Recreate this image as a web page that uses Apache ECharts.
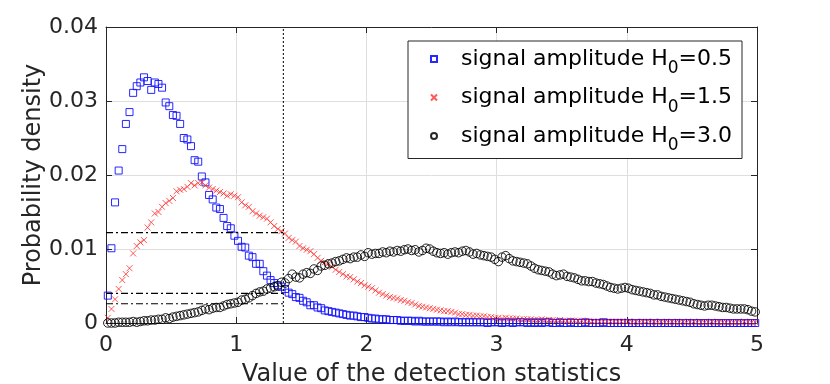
<!DOCTYPE html>
<html>
<head>
<meta charset="utf-8">
<script src="https://cdn.jsdelivr.net/npm/echarts@6/dist/echarts.min.js"></script>
<style>
  html, body { margin: 0; padding: 0; background: #fff; }
  #chart { width: 830px; height: 384px; }
</style>
</head>
<body>
<div id="chart"></div>
<script>
// histogram bin width, points sit at bin centres
const binWidth = 1 / 36

const amplitudes = ['0.5', '1.5', '3.0']

// signal amplitude H0=0.5
const amp05 = [
  0.0037, 0.0101, 0.0163, 0.0206, 0.0235, 0.0269, 0.0285, 0.0311, 0.0320, 0.0325,
  0.0332, 0.0327, 0.0315, 0.0325, 0.0323, 0.0318, 0.0298, 0.0293, 0.0281, 0.0280,
  0.0269, 0.0250, 0.0248, 0.0239, 0.0220, 0.0218, 0.0198, 0.0190, 0.0173, 0.0167,
  0.0156, 0.0154, 0.0142, 0.0131, 0.0128, 0.0118, 0.0111, 0.0103, 0.0102, 0.0091,
  0.0089, 0.0080, 0.0080, 0.0070, 0.0064, 0.0058, 0.0054, 0.0051, 0.0049, 0.0046,
  0.0041, 0.0039, 0.0035, 0.0034, 0.0030, 0.0028, 0.0024, 0.0024, 0.0021, 0.0020,
  0.0017, 0.0016, 0.0015, 0.0014, 0.0013, 0.0012, 0.0011, 0.0010, 0.0010, 0.0009,
  0.0008, 0.0008, 0.0007, 0.0006, 0.0006, 0.0005, 0.0005, 0.0005, 0.0004, 0.0004,
  0.0004, 0.0003, 0.0003, 0.0003, 0.0003, 0.0002, 0.0003, 0.0002, 0.0002, 0.0002,
  0.0002, 0.0002, 0.0002, 0.0001, 0.0002, 0.0001, 0.0002, 0.0001, 0.0001, 0.0001,
  0.0001, 0.0001, 0.0001, 0.0001, 0.0001, 0.0000, 0.0001, 0.0001, 0.0001, 0.0000,
  0.0001, 0.0001, 0.0000, 0.0001, 0.0001, 0.0001, 0.0000, 0.0001, 0.0000, 0.0001,
  0.0000, 0.0001, 0.0001, 0.0000, 0.0000, 0.0001, 0.0000, 0.0000, 0.0001, 0.0000,
  0.0000, 0.0000, 0.0001, 0.0000, 0.0000, 0.0000, 0.0000, 0.0001, 0.0000, 0.0000,
  0.0000, 0.0000, 0.0000, 0.0000, 0.0000, 0.0000, 0.0000, 0.0000, 0.0000, 0.0000,
  0.0000, 0.0000, 0.0000, 0.0000, 0.0000, 0.0000, 0.0000, 0.0000, 0.0000, 0.0000,
  0.0000, 0.0000, 0.0000, 0.0000, 0.0000, 0.0000, 0.0000, 0.0000, 0.0000, 0.0000,
  0.0000, 0.0000, 0.0000, 0.0000, 0.0000, 0.0000, 0.0000, 0.0000, 0.0000, 0.0000
]

// signal amplitude H0=1.5
const amp15 = [
  0.0007, 0.0019, 0.0032, 0.0046, 0.0058, 0.0066, 0.0074, 0.0094, 0.0104, 0.0109,
  0.0112, 0.0129, 0.0136, 0.0148, 0.0150, 0.0157, 0.0162, 0.0165, 0.0169, 0.0178,
  0.0180, 0.0181, 0.0184, 0.0189, 0.0186, 0.0189, 0.0190, 0.0186, 0.0183, 0.0181,
  0.0179, 0.0177, 0.0175, 0.0172, 0.0174, 0.0172, 0.0170, 0.0163, 0.0159, 0.0157,
  0.0151, 0.0148, 0.0145, 0.0143, 0.0141, 0.0136, 0.0131, 0.0127, 0.0124, 0.0121,
  0.0115, 0.0112, 0.0110, 0.0104, 0.0101, 0.0099, 0.0097, 0.0093, 0.0088, 0.0084,
  0.0082, 0.0080, 0.0076, 0.0072, 0.0069, 0.0066, 0.0063, 0.0062, 0.0059, 0.0056,
  0.0054, 0.0051, 0.0049, 0.0047, 0.0044, 0.0041, 0.0039, 0.0037, 0.0035, 0.0034,
  0.0033, 0.0031, 0.0030, 0.0028, 0.0027, 0.0025, 0.0023, 0.0022, 0.0021, 0.0020,
  0.0019, 0.0018, 0.0017, 0.0016, 0.0016, 0.0015, 0.0014, 0.0012, 0.0012, 0.0011,
  0.0011, 0.0010, 0.0010, 0.0009, 0.0009, 0.0008, 0.0008, 0.0007, 0.0007, 0.0006,
  0.0007, 0.0006, 0.0006, 0.0006, 0.0005, 0.0005, 0.0005, 0.0005, 0.0004, 0.0004,
  0.0005, 0.0004, 0.0004, 0.0004, 0.0003, 0.0004, 0.0003, 0.0003, 0.0003, 0.0003,
  0.0003, 0.0003, 0.0002, 0.0003, 0.0002, 0.0002, 0.0002, 0.0002, 0.0002, 0.0002,
  0.0002, 0.0002, 0.0002, 0.0002, 0.0002, 0.0001, 0.0002, 0.0001, 0.0002, 0.0002,
  0.0001, 0.0002, 0.0001, 0.0002, 0.0001, 0.0001, 0.0002, 0.0001, 0.0001, 0.0002,
  0.0001, 0.0001, 0.0002, 0.0001, 0.0001, 0.0001, 0.0001, 0.0002, 0.0001, 0.0001,
  0.0001, 0.0001, 0.0001, 0.0001, 0.0001, 0.0001, 0.0002, 0.0001, 0.0001, 0.0001
]

// signal amplitude H0=3.0
const amp30 = [
  0.0000, 0.0000, 0.0000, 0.0001, 0.0001, 0.0001, 0.0001, 0.0002, 0.0001, 0.0002,
  0.0003, 0.0003, 0.0004, 0.0004, 0.0005, 0.0005, 0.0007, 0.0006, 0.0008, 0.0009,
  0.0010, 0.0011, 0.0012, 0.0013, 0.0014, 0.0015, 0.0017, 0.0019, 0.0018, 0.0020,
  0.0021, 0.0021, 0.0023, 0.0025, 0.0026, 0.0027, 0.0028, 0.0031, 0.0032, 0.0034,
  0.0037, 0.0040, 0.0042, 0.0043, 0.0046, 0.0047, 0.0049, 0.0050, 0.0055, 0.0054,
  0.0060, 0.0066, 0.0062, 0.0061, 0.0066, 0.0068, 0.0067, 0.0073, 0.0071, 0.0077,
  0.0078, 0.0080, 0.0081, 0.0083, 0.0084, 0.0086, 0.0088, 0.0087, 0.0089, 0.0089,
  0.0092, 0.0090, 0.0095, 0.0093, 0.0094, 0.0094, 0.0096, 0.0095, 0.0097, 0.0096,
  0.0098, 0.0097, 0.0099, 0.0100, 0.0098, 0.0099, 0.0096, 0.0098, 0.0101, 0.0100,
  0.0097, 0.0095, 0.0094, 0.0095, 0.0093, 0.0095, 0.0096, 0.0095, 0.0097, 0.0098,
  0.0096, 0.0093, 0.0094, 0.0092, 0.0091, 0.0090, 0.0089, 0.0086, 0.0083, 0.0089,
  0.0091, 0.0087, 0.0084, 0.0083, 0.0082, 0.0081, 0.0080, 0.0077, 0.0074, 0.0072,
  0.0071, 0.0070, 0.0069, 0.0066, 0.0064, 0.0065, 0.0066, 0.0063, 0.0062, 0.0061,
  0.0059, 0.0057, 0.0057, 0.0056, 0.0056, 0.0054, 0.0053, 0.0052, 0.0050, 0.0048,
  0.0047, 0.0046, 0.0047, 0.0048, 0.0047, 0.0045, 0.0044, 0.0043, 0.0042, 0.0041,
  0.0040, 0.0038, 0.0038, 0.0036, 0.0035, 0.0034, 0.0033, 0.0032, 0.0031, 0.0030,
  0.0029, 0.0028, 0.0026, 0.0025, 0.0024, 0.0023, 0.0024, 0.0024, 0.0023, 0.0022,
  0.0021, 0.0021, 0.0020, 0.0019, 0.0019, 0.0019, 0.0019, 0.0018, 0.0016, 0.0015
]

const thresholdX = 1.362
const thresholdLevels = [0.0122, 0.0040, 0.0026]

const xTicks = [0, 1, 2, 3, 4, 5]
const yTicks = ['0', '0.01', '0.02', '0.03', '0.04']

const FONT = 'DejaVu Sans'
const AXIS_COLOR = '#262626'

const toPoints = (arr) => arr.map((v, i) => [(i + 0.5) * binWidth, v])
const nameOf = (amp) => 'signal amplitude H0=' + amp

const chart = echarts.init(document.getElementById('chart'), null, { renderer: 'canvas' })

const baseX = {
  type: 'value',
  min: xTicks[0],
  max: xTicks[xTicks.length - 1],
  interval: 1,
  axisLine: { show: true, onZero: false, lineStyle: { color: AXIS_COLOR, width: 1 } },
  axisTick: { show: true, inside: true, length: 6, lineStyle: { color: AXIS_COLOR } }
}
const baseY = {
  type: 'value',
  min: 0,
  max: 0.04,
  interval: 0.01,
  axisLine: { show: true, onZero: false, lineStyle: { color: AXIS_COLOR, width: 1 } },
  axisTick: { show: true, inside: true, length: 6, lineStyle: { color: AXIS_COLOR } }
}

const levelSeries = thresholdLevels.map((lv) => ({
  type: 'line',
  data: [[0, lv], [thresholdX, lv]],
  symbol: 'none',
  silent: true,
  lineStyle: { color: '#000', width: 1.2, type: [7, 3, 2, 3] },
  z: 5
}))

const option = {
  animation: false,
  backgroundColor: '#fff',
  textStyle: { fontFamily: FONT },
  grid: { left: 106, right: 73, top: 27, bottom: 61, outerBoundsMode: 'none', containLabel: false },
  legend: {
    left: 408,
    top: 41,
    orient: 'vertical',
    data: amplitudes.map(nameOf),
    backgroundColor: '#fff',
    borderColor: AXIS_COLOR,
    borderWidth: 1,
    borderRadius: 0,
    padding: [7, 10, 4, 22],
    itemWidth: 6,
    itemHeight: 6,
    itemGap: 9,
    formatter: (name) => '{f|signal amplitude H}{s|0}{t|=' + name.split('=')[1] + '}',
    textStyle: {
      rich: {
        f: { fontFamily: FONT, fontSize: 22, color: '#000', lineHeight: 32, padding: [0, 0, 0, 19] },
        t: { fontFamily: FONT, fontSize: 22, color: '#000', lineHeight: 32 },
        s: { fontFamily: FONT, fontSize: 17, color: '#000', padding: [20, 0, 0, 0] }
      }
    }
  },
  xAxis: [
    Object.assign({}, baseX, {
      position: 'bottom',
      name: 'Value of the detection statistics',
      nameLocation: 'middle',
      nameGap: 40,
      nameMoveOverlap: false,
      nameTextStyle: { fontFamily: FONT, fontSize: 24, color: AXIS_COLOR },
      axisLabel: { fontFamily: FONT, fontSize: 22, color: AXIS_COLOR, margin: 11 },
      splitLine: { show: true, lineStyle: { color: '#dedede', width: 1 } }
    }),
    Object.assign({}, baseX, {
      position: 'top',
      axisLabel: { show: false },
      splitLine: { show: false }
    })
  ],
  yAxis: [
    Object.assign({}, baseY, {
      position: 'left',
      name: 'Probability density',
      nameLocation: 'middle',
      nameGap: 60,
      nameMoveOverlap: false,
      nameTextStyle: { fontFamily: FONT, fontSize: 24, color: AXIS_COLOR },
      axisLabel: {
        fontFamily: FONT,
        fontSize: 22,
        color: AXIS_COLOR,
        margin: 8,
        formatter: (v) => yTicks[Math.round(v / 0.01)]
      },
      splitLine: { show: true, lineStyle: { color: '#dedede', width: 1 } }
    }),
    Object.assign({}, baseY, {
      position: 'right',
      axisLabel: { show: false },
      splitLine: { show: false }
    })
  ],
  series: [
    {
      name: nameOf(amplitudes[0]),
      type: 'scatter',
      data: toPoints(amp05),
      symbol: 'rect',
      symbolSize: 7,
      itemStyle: { color: 'rgba(0,0,0,0)', borderColor: '#1010ff', borderWidth: 1, opacity: 0.9 },
      z: 2
    },
    {
      name: nameOf(amplitudes[1]),
      type: 'scatter',
      data: toPoints(amp15),
      symbol: 'path://M0,0L10,10M10,0L0,10',
      symbolSize: 6,
      itemStyle: { color: 'rgba(0,0,0,0)', borderColor: '#ff2020', borderWidth: 1, opacity: 0.75 },
      z: 2
    },
    {
      name: nameOf(amplitudes[2]),
      type: 'scatter',
      data: toPoints(amp30),
      symbol: 'circle',
      symbolSize: 8.5,
      itemStyle: { color: 'rgba(0,0,0,0)', borderColor: '#000', borderWidth: 1, opacity: 0.85 },
      z: 2
    },
    ...levelSeries,
    {
      type: 'line',
      data: [[thresholdX, 0], [thresholdX, 0.04]],
      symbol: 'none',
      silent: true,
      lineStyle: { color: '#000', width: 1, type: [2, 2] },
      z: 5
    }
  ]
}

chart.setOption(option)
</script>
</body>
</html>
